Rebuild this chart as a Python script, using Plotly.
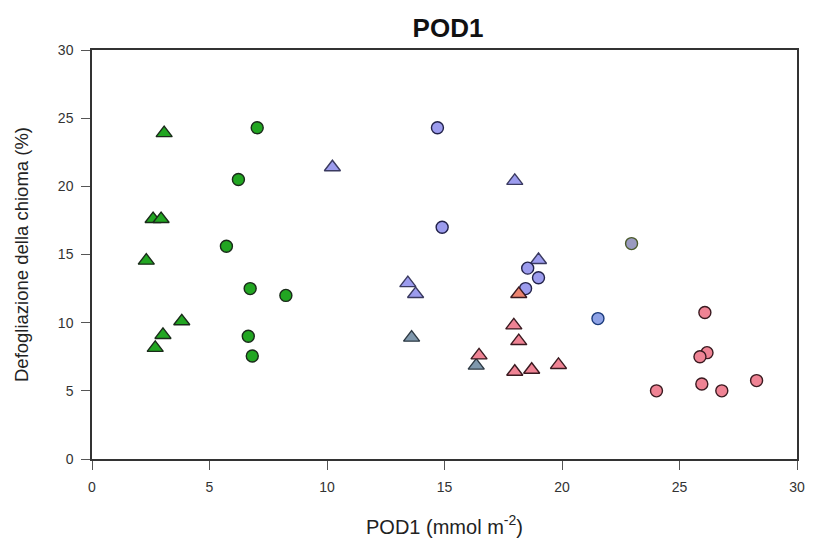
import plotly.graph_objects as go

# Green triangles
green_tri_x = [3.07, 2.60, 2.94, 2.31, 3.82, 3.02, 2.69]
green_tri_y = [23.9, 17.6, 17.6, 14.55, 10.1, 9.1, 8.15]
# Green circles
green_cir_x = [7.03, 6.23, 5.72, 6.73, 8.25, 6.65, 6.82]
green_cir_y = [24.3, 20.5, 15.6, 12.5, 12.0, 9.0, 7.55]
# Purple triangles
purple_tri_x = [10.23, 17.99, 19.0, 13.44, 13.77]
purple_tri_y = [21.4, 20.4, 14.6, 12.9, 12.1]
# Purple circles
purple_cir_x = [14.7, 14.9, 18.54, 19.0, 18.45]
purple_cir_y = [24.3, 17.0, 14.0, 13.3, 12.5]
# Blue circle
blue_cir_x = [21.53]
blue_cir_y = [10.3]
# Grey-purple circle
grey_cir_x = [22.96]
grey_cir_y = [15.8]
# Grey-blue triangles
grey_tri_x = [13.6, 16.35]
grey_tri_y = [8.9, 6.85]
# Salmon triangle
salmon_tri_x = [18.16]
salmon_tri_y = [12.1]
# Pink triangles
pink_tri_x = [17.95, 18.16, 16.47, 17.99, 18.71, 19.85]
pink_tri_y = [9.8, 8.65, 7.6, 6.4, 6.55, 6.9]
# Pink circles
pink_cir_x = [24.02, 26.08, 26.17, 25.87, 25.95, 26.8, 28.28]
pink_cir_y = [5.0, 10.75, 7.8, 7.5, 5.5, 5.0, 5.75]

x_ticks = [0, 5, 10, 15, 20, 25, 30]
y_ticks = [0, 5, 10, 15, 20, 25, 30]

fig = go.Figure()

def add(x, y, symbol, fill, outline, size):
    fig.add_trace(go.Scatter(
        x=x, y=y, mode="markers", showlegend=False, hoverinfo="skip",
        marker=dict(symbol=symbol, color=fill, size=size,
                    line=dict(color=outline, width=1.4))))

add(green_tri_x, green_tri_y, "triangle-up", "#22a622", "#1a2a1a", 14)
add(green_cir_x, green_cir_y, "circle", "#22a622", "#1a2a1a", 12)
add(purple_tri_x, purple_tri_y, "triangle-up", "#9c9cee", "#3a3a60", 14)
add(purple_cir_x, purple_cir_y, "circle", "#9c9cee", "#22224a", 12)
add(blue_cir_x, blue_cir_y, "circle", "#8ea2e6", "#1a3a7a", 12)
add(grey_cir_x, grey_cir_y, "circle", "#9a9ac0", "#4a5a2a", 12)
add(grey_tri_x, grey_tri_y, "triangle-up", "#7f98ad", "#2e3a44", 14)
add(pink_tri_x, pink_tri_y, "triangle-up", "#ef8394", "#3a1a20", 14)
add(salmon_tri_x, salmon_tri_y, "triangle-up", "#ec8470", "#3a1a20", 14)
add(pink_cir_x, pink_cir_y, "circle", "#ef8394", "#3a1a20", 12)

axis_common = dict(
    showgrid=False, zeroline=False, showline=True, linecolor="#333333",
    linewidth=1.5, mirror=True, ticks="outside", ticklen=9, tickwidth=1,
    tickcolor="#555555", ticklabelstandoff=5, ticklabeloverflow="allow",
    tickfont=dict(family="Liberation Sans, Arial", size=14, color="#333333"),
)

fig.update_layout(
    width=817, height=547,
    margin=dict(l=92, r=13, t=50, b=85),
    paper_bgcolor="white", plot_bgcolor="white",
    title=dict(text="<b>POD1</b>", x=448 / 817, xanchor="center",
               y=1 - 28 / 547, yanchor="middle",
               font=dict(family="Liberation Sans, Arial", size=26, color="#111111")),
    xaxis=dict(range=[0, 30], tickvals=x_ticks, ticktext=[str(v) for v in x_ticks],
               title=dict(text="POD1 (mmol m<sup>-2</sup>)", standoff=26,
                          font=dict(family="Liberation Sans, Arial", size=20, color="#222222")),
               **axis_common),
    yaxis=dict(range=[0, 30], tickvals=y_ticks, ticktext=[str(v) for v in y_ticks],
               title=dict(text="Defogliazione della chioma (%)", standoff=24,
                          font=dict(family="Liberation Sans, Arial", size=18.5, color="#222222")),
               **axis_common),
)

# remove the default 8px page margin so the 817x547 figure fills the window exactly
fig.write_html("out.html",
               config={"displayModeBar": False},
               post_script="document.body.style.margin='0';document.body.style.overflow='hidden';")
